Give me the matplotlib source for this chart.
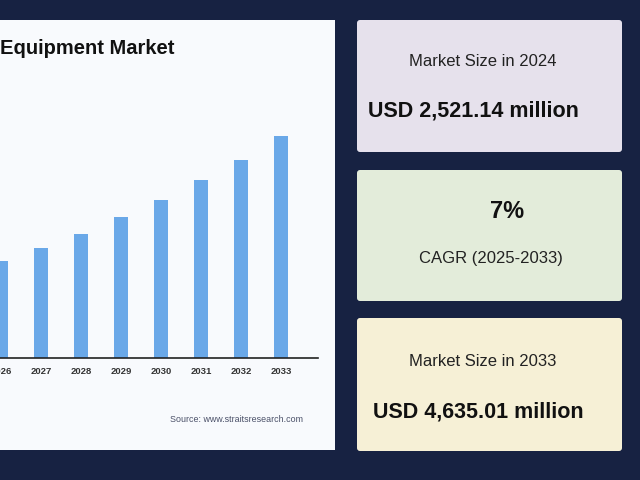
import matplotlib.pyplot as plt
from matplotlib.patches import FancyBboxPatch, Rectangle

### data (USD million)
years = [2026, 2027, 2028, 2029, 2030, 2031, 2032, 2033]
market_size = [2887, 3069, 3265, 3503, 3741, 4021, 4301, 4637]
tick_labels = ['2026', '2027', '2028', '2029', '2030', '2031', '2032', '2033']

title_text = 'Equipment Market'
source_text = 'Source: www.straitsresearch.com'
box_titles = ['Market Size in 2024', 'CAGR (2025-2033)', 'Market Size in 2033']
box_values = ['USD 2,521.14 million', '7%', 'USD 4,635.01 million']

navy = '#172242'
panel_color = '#f8fafd'
bar_color = '#6aa8e8'
box_colors = ['#e6e1ec', '#e3ecda', '#f6f0d6']

plt.rcParams['font.family'] = ['Liberation Sans', 'DejaVu Sans']

W, H = 640, 480
fig = plt.figure(figsize=(6.4, 4.8), dpi=100, facecolor=navy)

### background layer in pixel coordinates
bg = fig.add_axes([0, 0, 1, 1])
bg.set_xlim(0, W)
bg.set_ylim(H, 0)
bg.axis('off')

bg.add_patch(Rectangle((-5, 20), 340, 430, facecolor=panel_color, edgecolor='none'))
bg.text(0, 48, title_text, fontsize=14.5, fontweight='bold', color='#111111',
        ha='left', va='center')
bg.text(303, 419, source_text, fontsize=6.4, color='#4a5068', ha='right', va='center')

boxes = [(357, 20, 265, 132), (357, 170, 265, 131), (357, 318, 265, 133)]
for (x, y, w, h), c in zip(boxes, box_colors):
    bg.add_patch(FancyBboxPatch((x, y), w, h, boxstyle='round,pad=0,rounding_size=3',
                                facecolor=c, edgecolor='none'))

# box 1
bg.text(483, 62, box_titles[0], fontsize=12, color='#222222', ha='center', va='center')
bg.text(473, 111, box_values[0], fontsize=15.5, fontweight='bold', color='#111111',
        ha='center', va='center')
# box 2
bg.text(507, 211, box_values[1], fontsize=17, fontweight='bold', color='#111111',
        ha='center', va='center')
bg.text(491, 259, box_titles[1], fontsize=12, color='#222222', ha='center', va='center')
# box 3
bg.text(483, 361, box_titles[2], fontsize=12, color='#222222', ha='center', va='center')
bg.text(478, 412, box_values[2], fontsize=15.5, fontweight='bold', color='#111111',
        ha='center', va='center')

### bar chart
ax_left, ax_right, ax_base, ax_top = 0, 318, 358, 100
ax = fig.add_axes([ax_left / W, (H - ax_base) / H, (ax_right - ax_left) / W,
                   (ax_base - ax_top) / H])
ax.patch.set_alpha(0)
ax.bar(years, market_size, width=0.37, color=bar_color)
ax.set_xlim(2027 - 41 / 40, 2027 + (318 - 41) / 40)
ax.set_ylim(1529, 5141)
ax.set_xticks(years)
ax.set_xticklabels(tick_labels, fontsize=6.8, fontweight='bold', color='#333333')
ax.set_yticks([])
ax.tick_params(axis='x', length=0, pad=6.5)
for s in ['top', 'right', 'left']:
    ax.spines[s].set_visible(False)
ax.spines['bottom'].set_color('#222222')
ax.spines['bottom'].set_linewidth(1.2)

fig.savefig('out.png', dpi=100, facecolor=navy)
